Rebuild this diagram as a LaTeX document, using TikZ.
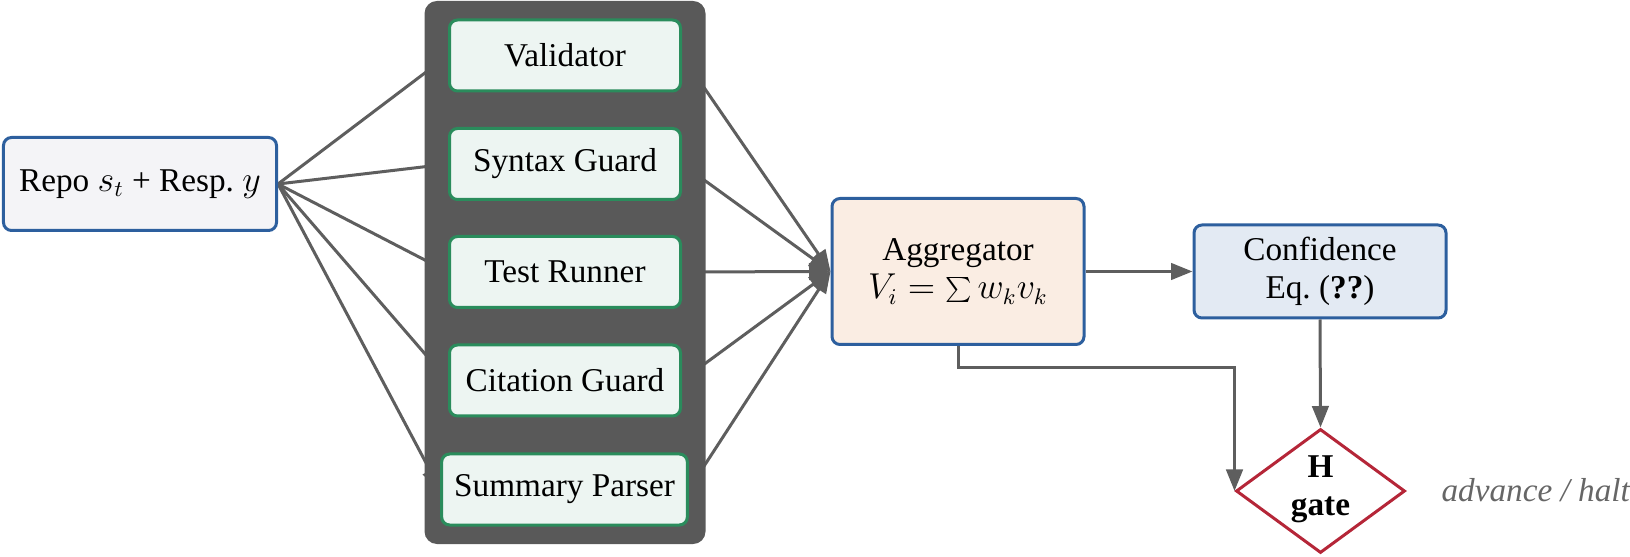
\documentclass[tikz,border=0pt]{standalone}
\usepackage{fontspec}
\setmainfont{Liberation Serif}
\usetikzlibrary{shapes.geometric,arrows.meta}
\definecolor{lineg}{HTML}{5E5E5E}
\definecolor{contg}{HTML}{595959}
\definecolor{bblue}{HTML}{2D5F9E}
\definecolor{repofill}{HTML}{F4F4F7}
\definecolor{ggreen}{HTML}{2A8C5C}
\definecolor{gfill}{HTML}{EDF5F2}
\definecolor{aggfill}{HTML}{FAEDE3}
\definecolor{conffill}{HTML}{E3EAF3}
\definecolor{gred}{HTML}{B52638}
\definecolor{haltg}{HTML}{666666}
\newcommand{\myfs}{\fontsize{13.3pt}{15.2pt}\selectfont}
\pgfdeclarelayer{bglayer}
\pgfdeclarelayer{midlayer}
\pgfsetlayers{bglayer,midlayer,main}
\begin{document}
\begin{tikzpicture}[x=0.4pt,y=-0.4pt,
  every node/.style={font=\myfs},
  conn/.style={draw=lineg, line width=1.2pt},
  arr/.style={conn, -{Triangle[length=8.6pt,width=6.6pt]}},
  bluebox/.style={rectangle, rounded corners=3.2pt, draw=bblue, line width=1.2pt, align=center},
  inbox/.style={bluebox, fill=repofill, minimum width=109.2pt, minimum height=37.2pt},
  aggbox/.style={bluebox, fill=aggfill, minimum width=100.8pt, minimum height=58.4pt},
  confbox/.style={bluebox, fill=conffill, minimum width=100.8pt, minimum height=37.2pt},
  vbox/.style={rectangle, rounded corners=3.2pt, draw=ggreen, fill=gfill, line width=1.2pt,
    minimum width=92.4pt, minimum height=28.4pt, inner xsep=5pt},
  contbox/.style={rectangle, rounded corners=5pt, fill=contg, inner sep=0pt,
    minimum width=112.4pt, minimum height=217.2pt},
  gatebox/.style={diamond, draw=gred, fill=white, line width=1.2pt, inner sep=0pt,
    minimum width=67.6pt, minimum height=49.6pt},
]
\useasboundingbox (0,0) rectangle (1630,557);

% input
\node[inbox] (repo) at (140,184) {Repo $s_t$ + Resp.\ $y$};

% validators
\node[vbox] (v1) at (565,55.5) {Validator};
\node[vbox] (v2) at (565,164) {Syntax Guard};
\node[vbox] (v3) at (565,272) {Test Runner};
\node[vbox] (v4) at (565,380.5) {Citation Guard};
\node[vbox] (v5) at (564.5,489.5) {Summary Parser};

% aggregator and confidence
\node[aggbox] (agg) at (958,271.5) {Aggregator\\$V_i=\sum w_k v_k$};
\node[confbox] (conf) at (1320,271.5) {Confidence\\Eq.~(\textbf{??})};

% gate
\node[gatebox] (gate) at (1320.5,491) {};
\node[font=\myfs\bfseries, align=center, inner sep=0pt] (gatetxt) at (1320.5,489) {H\\gate};
\node[anchor=base west, inner sep=0pt, text=haltg, font=\myfs\itshape] (halt) at (1441,502) {advance / halt};

% container (covers the ends of the fan-in/fan-out arrows)
\begin{pgfonlayer}{midlayer}
\node[contbox] (cont) at (565,272.5) {};
\end{pgfonlayer}

\begin{pgfonlayer}{bglayer}
\foreach \i in {1,...,5} {
  \draw[arr] (repo.east) -- (v\i.west);
  \draw[arr] (v\i.east) -- (agg.west);
}
\end{pgfonlayer}

\draw[arr] (agg.east) -- (conf.west);
\draw[arr] (conf.south) -- (gate.north);
\draw[arr] (agg.south) -- ++(0,22) -| (gate.west);
\end{tikzpicture}
\end{document}
